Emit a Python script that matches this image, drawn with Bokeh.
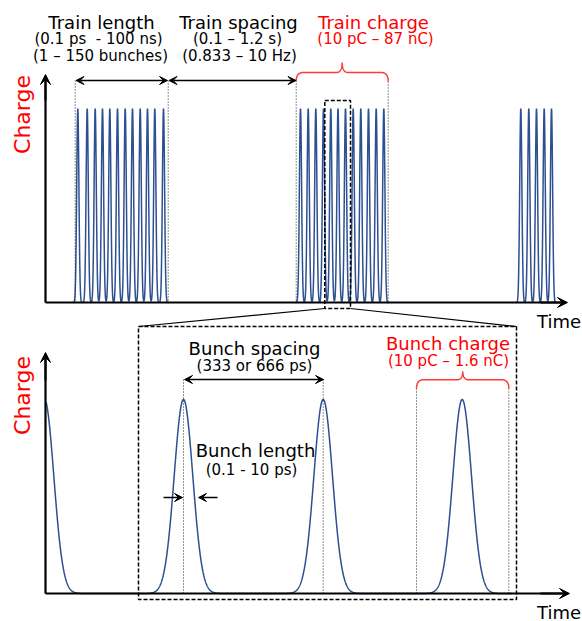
import numpy as np
from bokeh.plotting import figure
from bokeh.models import Range1d, Arrow, VeeHead
from bokeh.core.properties import value
from bokeh.embed import file_html
from bokeh.resources import INLINE

# ---------------- data (time positions of charge peaks) ----------------
train1_peaks = [77.3, 86.7, 94.7, 102.0, 109.3, 117.0, 124.7, 132.0, 139.7, 147.0, 154.3, 163.0]
train2_peaks = [300.0, 307.7, 315.3, 323.0, 330.3, 337.5, 345.0, 352.7, 360.3, 368.0, 375.7, 383.3]
train3_peaks = [520.3, 528.3, 536.0, 543.7, 551.0]
bunch_peaks = [44.0, 183.0, 322.7, 461.7]
peak_amplitude = 1.0

top_titles = ["Train length", "Train spacing"]
top_sub1 = ["(0.1 ps\u00a0 - 100 ns)", "(0.1 \u2013 1.2 s)"]
top_sub2 = ["(1 \u2013 150 bunches)", "(0.833 \u2013 10 Hz)"]
train_charge_label = ["Train charge", "(10 pC \u2013 87 nC)"]
bunch_spacing_label = ["Bunch spacing", "(333 or 666 ps)"]
bunch_length_label = ["Bunch length", "(0.1 - 10 ps)"]
bunch_charge_label = ["Bunch charge", "(10 pC \u2013 1.6 nC)"]
axis_y_label = "Charge"
axis_x_label = "Time"

# ---------------- styles ----------------
BLUE = "#2D5091"
RED = "#FF0000"
BRACE = "#FF3B3B"
FONT = value("DejaVu Sans")

W, H = 582, 621
p = figure(width=W, height=H, output_backend="svg", toolbar_location=None,
           x_range=Range1d(0, W), y_range=Range1d(H, 0),
           min_border=0)
p.axis.visible = False
p.grid.visible = False
p.outline_line_color = None
p.background_fill_color = "white"

# panel geometry
TOP_BASE, TOP_PEAK = 302.0, 108.0
BOT_BASE, BOT_PEAK = 593.0, 399.0


def pulses(peaks, sigma, x0, x1, base, peak):
    xs = np.arange(x0, x1, 0.1)
    ys = np.zeros_like(xs)
    for c in peaks:
        ys += peak_amplitude * np.exp(-0.5 * ((xs - c) / sigma) ** 2)
    return xs, base - ys * (base - peak)


# top trains
for tr in (train1_peaks, train2_peaks, train3_peaks):
    xs, ys = pulses(tr, 1.1, tr[0] - 5, tr[-1] + 5, TOP_BASE, TOP_PEAK)
    p.line(xs, ys, line_color=BLUE, line_width=1.5)

# bottom bunches
xs, ys = pulses(bunch_peaks, 9.3, 45.5, 512, BOT_BASE, BOT_PEAK)
p.line(xs, ys, line_color=BLUE, line_width=1.5)

# dotted guide lines
dot_x = [74.7, 167.7, 295.7, 387.7, 183.0, 322.7, 416.0, 508.3]
dot_top = [80, 80, 80, 81, 379, 379, 388, 388]
dot_bot = [302, 302, 302, 302, 593, 593, 593, 593]
p.multi_line(xs=[[x, x] for x in dot_x], ys=[[a, b] for a, b in zip(dot_top, dot_bot)],
             line_color="#222222", line_width=1, line_dash="1 2")

# dashed zoom boxes and connecting lines
p.multi_line(xs=[[324.3, 350, 350, 324.3, 324.3], [138, 516, 516, 138, 138]],
             ys=[[100, 100, 308, 308, 100], [326, 326, 599, 599, 326]],
             line_color="black", line_width=1.5, line_dash="4 2")
p.multi_line(xs=[[324.3, 138], [350, 516]], ys=[[308, 326], [308, 326]],
             line_color="black", line_width=1.2)

# axes
p.line([45, 45], [302, 80], line_color="black", line_width=2.2)
p.line([45, 563], [302, 302], line_color="black", line_width=2.2)
p.line([45, 45], [593, 358], line_color="black", line_width=2.2)
p.line([45, 565], [593, 593], line_color="black", line_width=2.2)


def arrow(x0, y0, x1, y1, both=False, size=8, lw=1.5):
    head = lambda: VeeHead(size=size, fill_color="black", line_color="black", line_width=1)
    p.add_layout(Arrow(start=head() if both else None, end=head(),
                       x_start=x0, y_start=y0, x_end=x1, y_end=y1,
                       line_color="black", line_width=lw))


arrow(45, 100, 45, 74, size=10, lw=2)
arrow(540, 302, 567, 302, size=10, lw=2)
arrow(45, 380, 45, 352, size=10, lw=2)
arrow(540, 593, 569, 593, size=10, lw=2)

arrow(75.5, 80, 167, 80, both=True)
arrow(168.5, 80, 295.5, 80, both=True)
arrow(184, 379, 323, 379, both=True)
arrow(163, 497, 182, 497)
arrow(217, 497, 198, 497)


# braces
def quad(p0, c, p1, n=24):
    t = np.linspace(0, 1, n)[:, None]
    pts = (1 - t) ** 2 * np.array(p0) + 2 * (1 - t) * t * np.array(c) + t ** 2 * np.array(p1)
    return pts


def brace(x0, x1, xc, yf, yend, ytip, r=7, rm=6):
    segs = [quad((x0, yend), (x0, yf), (x0 + r, yf)),
            quad((xc - rm, yf), (xc, yf), (xc, ytip)),
            quad((xc, ytip), (xc, yf), (xc + rm, yf)),
            quad((x1 - r, yf), (x1, yf), (x1, yend))]
    pts = np.vstack(segs)
    p.line(pts[:, 0], pts[:, 1], line_color=BRACE, line_width=1.5)


brace(295.7, 387.7, 341.7, 72, 81, 62)
brace(416, 508.3, 462.3, 379.3, 388, 370.7)

# texts
DY = -6.5


def txt(x, y, t, size, color="black", align="center", baseline="alphabetic", angle=0.0, dy=DY):
    p.text(x=x, y=[v + dy for v in y], text=t, text_font=FONT, text_font_size=size,
           text_color=color, text_align=align, text_baseline=baseline, angle=angle)


txt([101, 238], [28, 28], top_titles, "18px")
txt([98, 237], [45, 45], top_sub1, "15px")
txt([100, 239], [62, 62], top_sub2, "15px")
txt([373, 375], [28, 45], train_charge_label, ["18px", "15px"], color=RED)
txt([254, 254], [354, 371.5], bunch_spacing_label, ["18px", "15px"])
txt([255, 251], [456.5, 476], bunch_length_label, ["18px", "15px"])
txt([447.5, 448], [349, 366.5], bunch_charge_label, ["18px", "15px"], color=RED)
txt([558.5, 558.5], [327, 618], [axis_x_label, axis_x_label], "18px")
txt([22, 22], [114, 395], [axis_y_label, axis_y_label], "22px", color=RED,
    baseline="middle", angle=np.pi / 2, dy=0)

open("out.html", "w").write(file_html(p, INLINE))
